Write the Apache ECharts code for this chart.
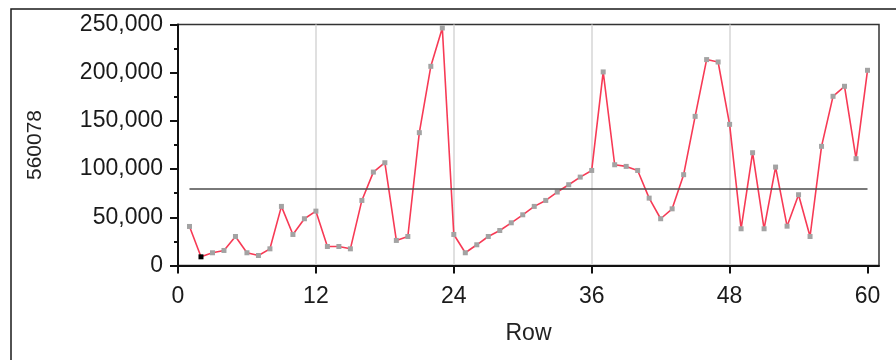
<!DOCTYPE html>
<html>
<head>
<meta charset="utf-8">
<script src="https://cdn.jsdelivr.net/npm/echarts@6/dist/echarts.min.js"></script>
<style>
  html, body { margin: 0; padding: 0; background: #fff; }
  #chart { width: 896px; height: 360px; }
</style>
</head>
<body>
<div id="chart"></div>
<script>
// Row numbers and the 560078 readings for each row
const rows = [];
for (let r = 1; r <= 60; r++) rows.push(r);

const values = [
  40500, 9000, 13200, 15600, 30100, 13200, 10400, 17300, 61300, 32200, 48500, 56400,
  19700, 19700, 17300, 67500, 96900, 106600, 26000, 30100, 137800, 206600, 246400, 32200,
  13200, 21500, 30100, 36300, 44300, 52600, 61300, 67500, 76200, 83800, 91700, 98600,
  200800, 104500, 102800, 98600, 69900, 48500, 58800, 94200, 154700, 213600, 211100, 146400,
  38100, 117000, 38100, 102100, 40800, 73400, 30100, 123600, 175500, 185900, 110800, 202500
];

const xTicks = [0, 12, 24, 36, 48, 60];
const highlightedRow = 2;

const FONT = 'Liberation Sans, Arial, sans-serif';

const mean = values.reduce((a, b) => a + b, 0) / values.length;

const points = rows.map((r, i) => {
  const p = { value: [r, values[i]] };
  if (r === highlightedRow) p.itemStyle = { color: '#000' };
  return p;
});

const chart = echarts.init(document.getElementById('chart'), null, { renderer: 'canvas' });
chart.setOption({
  animation: false,
  backgroundColor: '#fff',
  graphic: [{
    type: 'rect',
    silent: true,
    shape: { x: 11, y: 9, width: 1000, height: 1000 },
    style: { fill: 'none', stroke: '#1a1a1a', lineWidth: 1.5 }
  }],
  grid: {
    left: 178, top: 24.5, right: 17, bottom: 94.5,
    show: true, borderColor: '#333', borderWidth: 1.5, backgroundColor: 'transparent'
  },
  xAxis: {
    type: 'value',
    min: 0, max: 61, interval: 12,
    name: 'Row',
    nameLocation: 'middle',
    nameGap: 57,
    nameTextStyle: { fontFamily: FONT, fontSize: 23, color: '#222' },
    axisLine: { show: true, lineStyle: { color: '#111', width: 2 } },
    axisTick: { show: true, length: 8, customValues: xTicks, lineStyle: { color: '#111', width: 2 } },
    axisLabel: {
      customValues: xTicks,
      margin: 20,
      fontFamily: FONT, fontSize: 23, color: '#1a1a1a'
    },
    splitLine: {
      show: true, showMinLine: false, showMaxLine: false,
      lineStyle: { color: '#d6d6d6', width: 1.5 }
    }
  },
  yAxis: {
    type: 'value',
    min: 0, max: 250000, interval: 50000,
    name: '560078',
    nameLocation: 'middle',
    nameGap: 132,
    nameRotate: 90,
    nameTextStyle: { fontFamily: FONT, fontSize: 21, color: '#222' },
    axisLine: { show: true, lineStyle: { color: '#111', width: 2 } },
    axisTick: { show: true, length: 8, lineStyle: { color: '#111', width: 2 } },
    minorTick: { show: true, splitNumber: 2, length: 4, lineStyle: { color: '#111', width: 2 } },
    axisLabel: {
      margin: 15,
      fontFamily: FONT, fontSize: 23, color: '#1a1a1a',
      formatter: v => v.toLocaleString('en-US')
    },
    splitLine: { show: false }
  },
  series: [{
    type: 'line',
    data: points,
    symbol: 'rect',
    symbolSize: 5,
    showSymbol: true,
    lineStyle: { color: '#f73a55', width: 1.6 },
    itemStyle: { color: '#a3a3a3' },
    z: 3,
    markLine: {
      silent: true,
      symbol: 'none',
      label: { show: false },
      lineStyle: { color: '#4d4d4d', width: 1.5, type: 'solid' },
      data: [[{ coord: [rows[0], mean] }, { coord: [rows[rows.length - 1], mean] }]]
    }
  }]
});
</script>
</body>
</html>
